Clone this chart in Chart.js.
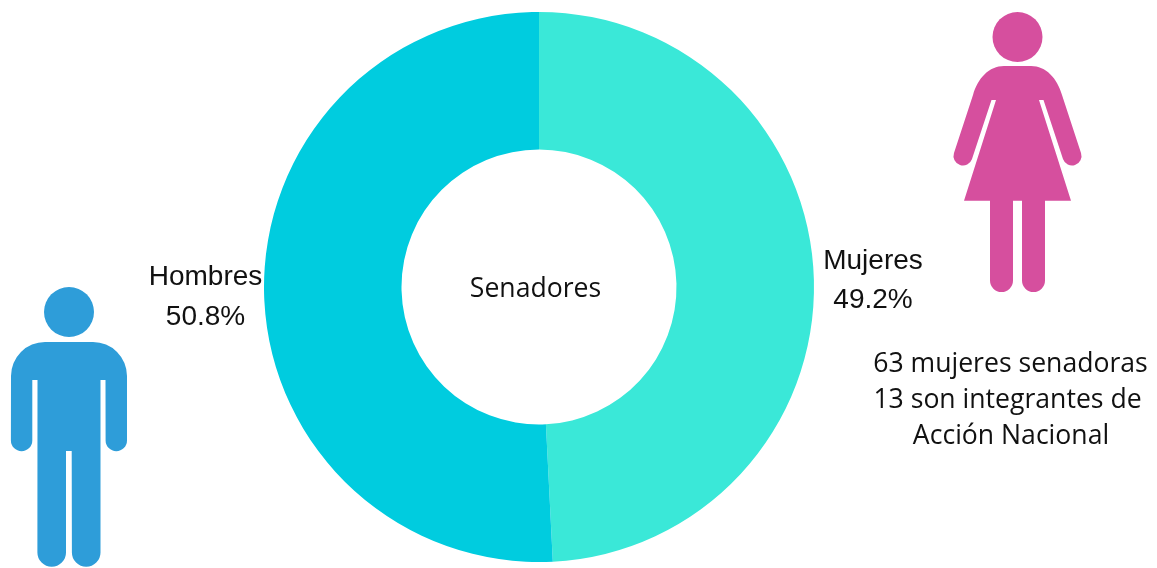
<!DOCTYPE html>
<html lang="es">
<head>
<meta charset="utf-8">
<title>Senadores</title>
<script src="https://cdn.jsdelivr.net/npm/chart.js@4/dist/chart.umd.min.js"></script>
<style>
  html, body { margin: 0; padding: 0; background: #fff; }
  #wrap { width: 1157px; height: 568px; position: relative; overflow: hidden; }
</style>
</head>
<body>
<div id="wrap"><canvas id="chart" width="1157" height="568"></canvas></div>
<script>
const categories = ["Mujeres", "Hombres"];
const shares = [49.2, 50.8];
const sliceColors = ["#3AE8D8", "#00CCDF"];
const centerLabel = "Senadores";
const noteLines = ["63 mujeres senadoras", "13 son integrantes de", "Acción Nacional"];

const INK = "#111";
const PINK = "#D64F9E";
const BLUE = "#2E9DD9";

function pill(ctx, x, y, w, h, r) {
  ctx.beginPath();
  ctx.roundRect(x, y, w, h, [0, 0, r, r]);
  ctx.fill();
}

// Standing woman pictogram
function drawWoman(ctx) {
  const tilt = Math.atan2(1, 3);
  ctx.fillStyle = PINK;
  ctx.beginPath();
  ctx.arc(1017.5, 37, 25, 0, Math.PI * 2);
  ctx.fill();

  ctx.beginPath();
  ctx.moveTo(1004, 66);
  ctx.lineTo(1031, 66);
  ctx.bezierCurveTo(1046, 66, 1057, 78, 1062, 95);
  ctx.lineTo(1081, 153);
  ctx.arc(1072, 156, 9.5, -tilt, Math.PI - tilt);
  ctx.lineTo(1043.5, 100);
  ctx.lineTo(1039, 100);
  ctx.lineTo(1071, 200.7);
  ctx.lineTo(964, 200.7);
  ctx.lineTo(996, 100);
  ctx.lineTo(991.5, 100);
  ctx.lineTo(972, 159);
  ctx.arc(963, 156, 9.5, tilt, Math.PI + tilt);
  ctx.lineTo(973, 95);
  ctx.bezierCurveTo(978, 78, 989, 66, 1004, 66);
  ctx.closePath();
  ctx.fill();

  pill(ctx, 990, 200, 23, 92, 11.5);
  pill(ctx, 1022, 200, 23, 92, 11.5);
}

// Standing man pictogram
function drawMan(ctx) {
  ctx.fillStyle = BLUE;
  ctx.beginPath();
  ctx.arc(69, 312, 25, 0, Math.PI * 2);
  ctx.fill();

  ctx.beginPath();
  ctx.moveTo(45, 342);
  ctx.lineTo(93, 342);
  ctx.arc(93, 376, 34, -Math.PI / 2, 0);
  ctx.lineTo(127, 440.5);
  ctx.arc(116.3, 440.5, 10.7, 0, Math.PI);
  ctx.lineTo(105.5, 380);
  ctx.lineTo(100.5, 380);
  ctx.lineTo(100.5, 552.5);
  ctx.arc(86.2, 552.5, 14.3, 0, Math.PI);
  ctx.lineTo(71.7, 451);
  ctx.lineTo(66, 451);
  ctx.lineTo(66, 552.5);
  ctx.arc(51.7, 552.5, 14.3, 0, Math.PI);
  ctx.lineTo(37.5, 380);
  ctx.lineTo(32.3, 380);
  ctx.lineTo(32.3, 440.5);
  ctx.arc(21.6, 440.5, 10.7, 0, Math.PI);
  ctx.lineTo(11, 376);
  ctx.arc(45, 376, 34, Math.PI, -Math.PI / 2);
  ctx.closePath();
  ctx.fill();
}

// Text beside and inside the ring, plus the two pictograms
const decorations = {
  id: "decorations",
  afterDraw(chart) {
    const ctx = chart.ctx;
    const ring = chart.getDatasetMeta(0).data[0];
    ctx.save();
    drawWoman(ctx);
    drawMan(ctx);

    ctx.fillStyle = INK;
    ctx.textAlign = "center";
    ctx.textBaseline = "alphabetic";

    ctx.font = '28px "Liberation Sans"';
    ctx.fillText(categories[0], 873, 269);
    ctx.fillText(shares[0].toFixed(1) + "%", 873, 308);
    ctx.fillText(categories[1], 205.5, 285);
    ctx.fillText(shares[1].toFixed(1) + "%", 205.5, 325);

    ctx.font = '26.6px "Open Sans"';
    ctx.fillText(centerLabel, ring.x - 3.5, ring.y + 10);
    const noteX = [1010.5, 1007.5, 1011];
    const noteY = [372, 408, 444];
    noteLines.forEach((line, i) => ctx.fillText(line, noteX[i], noteY[i]));
    ctx.restore();
  }
};

new Chart(document.getElementById("chart"), {
  type: "doughnut",
  data: {
    labels: categories,
    datasets: [{
      data: shares,
      backgroundColor: sliceColors,
      borderWidth: 0,
      hoverOffset: 0
    }]
  },
  options: {
    responsive: false,
    animation: false,
    cutout: "50%",
    layout: { padding: { left: 0, right: 79, top: 12, bottom: 6 } },
    plugins: { legend: { display: false }, tooltip: { enabled: false } }
  },
  plugins: [decorations]
});
</script>
</body>
</html>
